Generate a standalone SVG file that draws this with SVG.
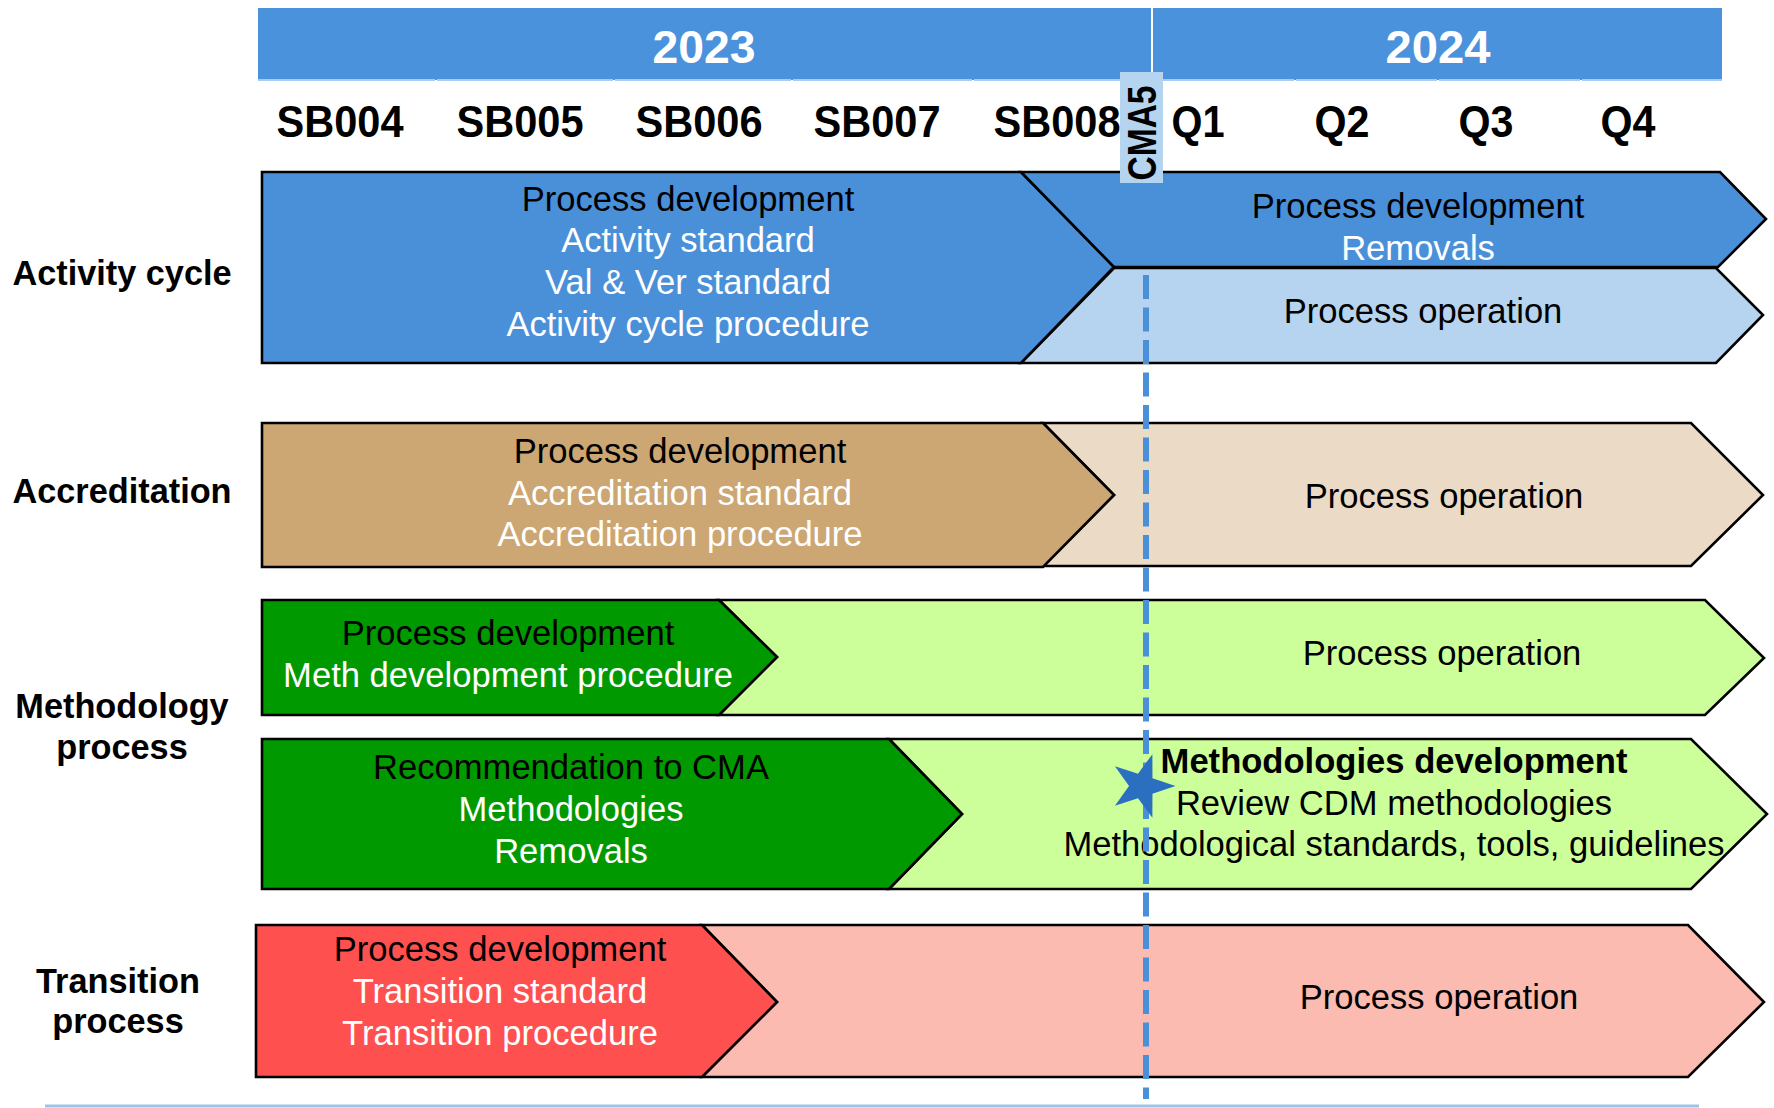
<svg xmlns="http://www.w3.org/2000/svg" width="1774" height="1108" viewBox="0 0 1774 1108">
<defs>
<style>
.box{stroke:#000;stroke-width:2.6;stroke-linejoin:miter}
.t{font-family:"Liberation Sans",Arial,sans-serif;font-size:34.6px;text-anchor:middle}
.w{fill:#fff}
.k{fill:#000}
.lbl{font-family:"Liberation Sans",Arial,sans-serif;font-size:34.3px;font-weight:bold;text-anchor:middle;fill:#000}
.hdr{font-family:"Liberation Sans",Arial,sans-serif;font-weight:bold;text-anchor:middle}
</style>
</defs>
<rect width="1774" height="1108" fill="#fff"/>

<g id="header">
<rect x="258" y="8" width="1464" height="72" fill="#4A92DC"/>
<line x1="1152" y1="8" x2="1152" y2="80" stroke="#fff" stroke-width="2"/>
<g stroke="#A8CBF0" stroke-width="2">
<line x1="258" y1="80" x2="435" y2="80"/><line x1="437" y1="80" x2="613" y2="80"/><line x1="615" y1="80" x2="791" y2="80"/><line x1="793" y1="80" x2="972" y2="80"/><line x1="974" y1="80" x2="1120" y2="80"/>
<line x1="1163" y1="80" x2="1294" y2="80"/><line x1="1296" y1="80" x2="1437" y2="80"/><line x1="1439" y1="80" x2="1580" y2="80"/><line x1="1582" y1="80" x2="1722" y2="80"/>
</g>
<text class="hdr" x="704" y="63" font-size="47" fill="#fff" textLength="103" lengthAdjust="spacingAndGlyphs">2023</text>
<text class="hdr" x="1438" y="63" font-size="47" fill="#fff" textLength="105" lengthAdjust="spacingAndGlyphs">2024</text>
<g class="hdr" font-size="44" fill="#000">
<text x="340" y="137" textLength="127" lengthAdjust="spacingAndGlyphs">SB004</text>
<text x="520" y="137" textLength="127" lengthAdjust="spacingAndGlyphs">SB005</text>
<text x="699" y="137" textLength="127" lengthAdjust="spacingAndGlyphs">SB006</text>
<text x="877" y="137" textLength="127" lengthAdjust="spacingAndGlyphs">SB007</text>
<text x="1057" y="137" textLength="127" lengthAdjust="spacingAndGlyphs">SB008</text>
<text x="1198" y="137" textLength="53" lengthAdjust="spacingAndGlyphs">Q1</text>
<text x="1342" y="137" textLength="55" lengthAdjust="spacingAndGlyphs">Q2</text>
<text x="1486" y="137" textLength="55" lengthAdjust="spacingAndGlyphs">Q3</text>
<text x="1628" y="137" textLength="55" lengthAdjust="spacingAndGlyphs">Q4</text>
</g>
</g>

<g id="row-labels">
<text class="lbl" x="122" y="285">Activity cycle</text>
<text class="lbl" x="122" y="503">Accreditation</text>
<text class="lbl" x="122" y="718">Methodology</text>
<text class="lbl" x="122" y="759">process</text>
<text class="lbl" x="118" y="993">Transition</text>
<text class="lbl" x="118" y="1033">process</text>
</g>

<g id="activity-operation">
<polygon class="box" fill="#B6D4F0" points="1114,268 1716,268 1763,315 1716,363 1021,363"/>
<text class="t k" x="1423" y="323">Process operation</text>
</g>
<g id="activity-development">
<polygon class="box" fill="#4A90D9" points="262,172 1021,172 1114,267 1021,363 262,363"/>
<text class="t k" x="688" y="211">Process development</text>
<text class="t w" x="688" y="252">Activity standard</text>
<text class="t w" x="688" y="294">Val &amp; Ver standard</text>
<text class="t w" x="688" y="336">Activity cycle procedure</text>
</g>
<g id="activity-removals">
<polygon class="box" fill="#4A90D9" points="1021,172 1720,172 1766,219 1718,267 1114,267"/>
<text class="t k" x="1418" y="218">Process development</text>
<text class="t w" x="1418" y="260">Removals</text>
</g>

<g id="accreditation-operation">
<polygon class="box" fill="#EBDAC6" points="1043,423 1691,423 1763,495 1691,566 1043,566 1114,495"/>
<text class="t k" x="1444" y="508">Process operation</text>
</g>
<g id="accreditation-development">
<polygon class="box" fill="#CCA673" points="262,423 1043,423 1114,495 1043,567 262,567"/>
<text class="t k" x="680" y="463">Process development</text>
<text class="t w" x="680" y="505">Accreditation standard</text>
<text class="t w" x="680" y="546">Accreditation procedure</text>
</g>

<g id="methodology-operation">
<polygon class="box" fill="#CCFF99" points="719,600 1705,600 1764,658 1705,715 719,715 777,657"/>
<text class="t k" x="1442" y="665">Process operation</text>
</g>
<g id="methodology-development">
<polygon class="box" fill="#009900" points="262,600 719,600 777,657 719,715 262,715"/>
<text class="t k" x="508" y="645">Process development</text>
<text class="t w" x="508" y="687">Meth development procedure</text>
</g>

<g id="methodologies-development">
<polygon class="box" fill="#CCFF99" points="889,739 1691,739 1767,814 1691,889 889,889 962,814"/>
<text class="t k" x="1394" y="773" font-weight="bold">Methodologies development</text>
<text class="t k" x="1394" y="815">Review CDM methodologies</text>
<text class="t k" x="1394" y="856">Methodological standards, tools, guidelines</text>
</g>
<g id="recommendation">
<polygon class="box" fill="#009900" points="262,739 889,739 962,814 889,889 262,889"/>
<text class="t k" x="571" y="779">Recommendation to CMA</text>
<text class="t w" x="571" y="821">Methodologies</text>
<text class="t w" x="571" y="863">Removals</text>
</g>

<g id="transition-operation">
<polygon class="box" fill="#FBBBB0" points="702,925 1688,925 1764,1002 1688,1077 702,1077 777,1002"/>
<text class="t k" x="1439" y="1009">Process operation</text>
</g>
<g id="transition-development">
<polygon class="box" fill="#FF5050" points="256,925 702,925 777,1002 702,1077 256,1077"/>
<text class="t k" x="500" y="961">Process development</text>
<text class="t w" x="500" y="1003">Transition standard</text>
<text class="t w" x="500" y="1045">Transition procedure</text>
</g>

<line id="bottom-rule" x1="45" y1="1106" x2="1699" y2="1106" stroke="#9DC3E6" stroke-width="3"/>

<g id="connectors">
<line x1="1146" y1="275" x2="1146" y2="1099" stroke="#4A90D9" stroke-width="6" stroke-dasharray="24 8.5"/>
</g>

<g id="cma5">
<rect x="1120" y="72" width="43" height="111" fill="#B4D4F0"/>
<text class="hdr" transform="translate(1156,133) rotate(-90)" x="0" y="0" font-size="40" fill="#000" textLength="95" lengthAdjust="spacingAndGlyphs">CMA5</text>
</g>

<g id="star">
<polygon fill="#2B6FC0" transform="translate(1142,786) scale(1.08) translate(-1142,-786)" points="1151.6,756.5 1151.7,778.9 1173,786 1151.7,793.1 1151.6,815.5 1138.3,797.4 1116.9,804.2 1130,786 1116.9,767.8 1138.3,774.6"/>
</g>
</svg>
